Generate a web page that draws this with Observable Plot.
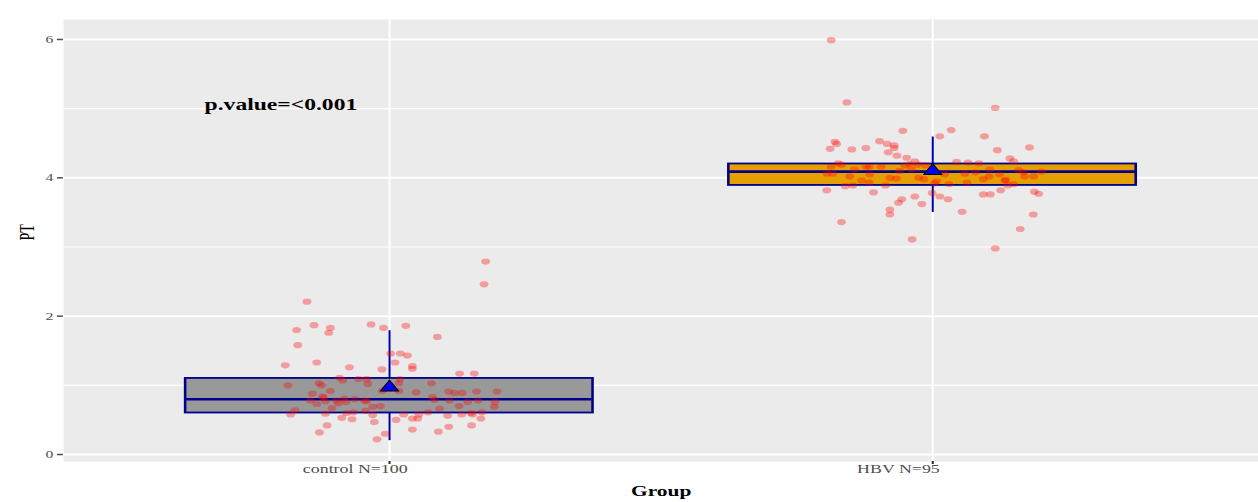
<!DOCTYPE html>
<html><head><meta charset="utf-8">
<script src="https://cdn.jsdelivr.net/npm/d3@7"></script>
<script src="https://cdn.jsdelivr.net/npm/@observablehq/plot@0.6"></script>
<style>
html,body{margin:0;padding:0;background:#fff;overflow:hidden;}
#chart{width:1258px;height:502px;}
#chart svg{transform:scaleX(1.4295);transform-origin:0 0;display:block;}
</style></head><body><div id="chart"></div>
<script>
const groups = ["control N=100", "HBV N=95"];
const boxFill = ["#999999", "#E69F00"];
const q1 = [0.60, 3.89];
const med = [0.80, 4.09];
const q3 = [1.10, 4.20];
const whiskerLo = [0.20, 3.50];
const whiskerHi = [1.79, 4.59];
const means = [0.97, 4.10];
const yTicks = [0, 2, 4, 6];
const yMinor = [1, 3, 5];
const annotation = ["p.value=<0.001"];
const annotationX = [0.8];
const annotationY = [5.06];

const controlJitter = [0.177,0.174,-0.152,-0.171,-0.139,-0.109,-0.112,-0.034,-0.011,0.030,
-0.169,0.088,-0.192,-0.134,-0.074,0.002,0.020,0.033,0.010,-0.014,
0.042,0.042,0.129,0.156,-0.092,-0.086,-0.057,-0.042,-0.040,0.019,
0.017,0.077,-0.187,-0.130,-0.125,-0.109,-0.142,-0.122,-0.146,-0.134,
-0.118,-0.106,-0.098,-0.083,-0.080,-0.064,-0.042,-0.031,-0.017,-0.013,
0.017,0.049,0.079,0.083,0.109,0.120,0.134,0.160,0.198,0.110,
0.144,0.163,0.194,0.193,0.128,0.092,0.071,0.107,0.133,0.150,
0.153,0.170,0.168,0.151,0.109,0.090,0.042,0.042,0.052,0.054,
0.026,0.012,-0.008,-0.023,-0.028,-0.031,-0.044,-0.067,-0.079,-0.088,
-0.069,-0.118,-0.174,-0.182,-0.115,-0.129,-0.123,-0.046,-0.094,-0.007];
const controlPT = [2.79,2.46,2.21,1.80,1.87,1.83,1.76,1.88,1.83,1.86,
1.58,1.70,1.29,1.33,1.26,1.46,1.46,1.43,1.33,1.23,
1.28,1.24,1.17,1.17,1.11,1.07,1.09,1.09,1.02,1.09,
1.03,1.03,1.00,1.03,1.00,0.92,0.88,0.82,0.78,0.73,
0.77,0.67,0.78,0.81,0.76,0.80,0.77,0.69,0.70,0.92,
0.92,0.90,0.83,0.79,0.91,0.89,0.89,0.91,0.91,0.78,
0.76,0.78,0.76,0.69,0.70,0.66,0.61,0.56,0.58,0.60,
0.58,0.61,0.52,0.42,0.40,0.33,0.36,0.52,0.52,0.58,
0.58,0.50,0.30,0.22,0.47,0.57,0.63,0.61,0.60,0.53,
0.51,0.59,0.64,0.58,0.42,0.32,0.84,0.78,0.74,0.95];
const hbvJitter = [-0.187,-0.158,0.115,-0.055,0.034,0.013,0.095,-0.180,-0.177,-0.189,
-0.149,-0.123,-0.098,-0.084,-0.071,-0.071,-0.082,-0.066,-0.048,-0.033,
-0.043,-0.051,-0.028,-0.013,0.119,0.178,0.142,0.149,0.044,0.065,
0.085,-0.174,-0.168,-0.187,-0.123,-0.117,-0.095,0.158,0.167,0.200,
-0.195,-0.184,-0.153,-0.131,-0.117,-0.067,-0.026,-0.016,0.007,0.030,
0.059,0.079,0.093,0.104,0.063,0.133,0.138,0.149,0.169,0.186,
-0.161,-0.147,-0.087,-0.195,-0.109,-0.001,0.013,0.028,-0.033,-0.057,
-0.063,-0.020,0.093,0.106,0.125,0.187,0.195,-0.079,-0.079,0.054,
0.185,-0.168,0.161,-0.038,0.115,0.003,0.134,-0.116,-0.061,-0.039,
-0.079,0.022,0.105,0.123,-0.144];
const hbvPT = [5.99,5.09,5.01,4.68,4.69,4.60,4.60,4.52,4.49,4.42,
4.41,4.43,4.53,4.49,4.47,4.43,4.37,4.32,4.29,4.24,
4.20,4.18,4.19,4.18,4.40,4.44,4.28,4.24,4.23,4.22,
4.21,4.21,4.19,4.16,4.16,4.16,4.16,4.11,4.08,4.09,
4.06,4.06,4.02,3.96,3.93,3.99,4.00,3.98,3.95,3.91,
4.06,4.08,3.98,4.02,3.93,3.96,3.89,3.91,4.02,4.02,
3.88,3.89,3.89,3.82,3.79,3.78,3.73,3.69,3.73,3.69,
3.64,3.62,3.76,3.76,3.82,3.80,3.77,3.54,3.47,3.51,
3.47,3.36,3.26,3.11,2.98,3.92,3.97,4.05,4.10,4.12,
4.00,4.05,4.12,4.05,4.12];

// tables built from the arrays
const points = [
  ...controlPT.map((v, i) => ({g: 1, x: 1 + controlJitter[i], v})),
  ...hbvPT.map((v, i) => ({g: 2, x: 2 + hbvJitter[i], v}))
];
const stats = groups.map((name, i) => ({
  name, pos: i + 1, q1: q1[i], med: med[i], q3: q3[i],
  lo: whiskerLo[i], hi: whiskerHi[i], mean: means[i], fill: boxFill[i]
}));
const ann = annotation.map((t, i) => ({t, x: annotationX[i], y: annotationY[i]}));

const W = 880;
const half = 0.375;
const navy = "#00008B";

const plot = Plot.plot({
  width: W, height: 502,
  marginLeft: 44, marginRight: 0, marginTop: 19, marginBottom: 41,
  style: {fontFamily: '"Liberation Serif", "Times New Roman", serif', background: "transparent", overflow: "visible"},
  x: {domain: [0.4, 2.6], axis: null},
  y: {domain: [-0.101, 6.289], axis: null},
  marks: [
    Plot.frame({fill: "#EBEBEB", stroke: null}),
    Plot.ruleY(yMinor, {stroke: "white", strokeWidth: 1.1}),
    Plot.ruleY(yTicks, {stroke: "white", strokeWidth: 2}),
    Plot.ruleX(stats, {x: "pos", stroke: "white", strokeWidth: 1.4}),
    Plot.axisY({ticks: yTicks, tickFormat: d3.format("d"), tickSize: 4.2, tickPadding: 3, fontSize: 11, color: "#4D4D4D", strokeWidth: 1.5, label: null}),
    Plot.axisX({ticks: stats.map(d => d.pos), tickSize: 3, tickFormat: () => "", color: "#333333", strokeWidth: 1.5, label: null}),
    Plot.text(stats, {x: "pos", text: "name", frameAnchor: "bottom", dy: 11, dx: -24, fontSize: 12.5, fill: "#4D4D4D"}),
    Plot.text(["Group"], {frameAnchor: "bottom", dy: 34, fontSize: 15, fontWeight: "bold", fill: "black"}),
    Plot.text(["PT"], {frameAnchor: "left", dx: -25, rotate: -90, fontSize: 14, fill: "black"}),
    // whiskers (outside the box)
    Plot.ruleX(stats, {x: "pos", y1: "q3", y2: "hi", stroke: "#0000A8", strokeWidth: 1.4}),
    Plot.ruleX(stats, {x: "pos", y1: "lo", y2: "q1", stroke: "#0000A8", strokeWidth: 1.4}),
    // boxes
    Plot.rect(stats, {x1: d => d.pos - half, x2: d => d.pos + half, y1: "q1", y2: "q3", fill: "fill", stroke: navy, strokeWidth: 1.8}),
    Plot.ruleY(stats, {x1: d => d.pos - half, x2: d => d.pos + half, y: "med", stroke: navy, strokeWidth: 2.6}),
    // jittered points
    Plot.dot(points, {x: "x", y: "v", r: 3.1, fill: "red", fillOpacity: 0.33, stroke: null}),
    // mean
    Plot.dot(stats, {x: "pos", y: "mean", symbol: "triangle", r: 4.7, fill: "#0000FF", stroke: "black", strokeWidth: 0.9}),
    // annotation
    Plot.text(ann, {x: "x", y: "y", text: "t", fontSize: 16.5, fontWeight: "bold", fill: "black"})
  ]
});
document.getElementById("chart").appendChild(plot);
</script></body></html>
